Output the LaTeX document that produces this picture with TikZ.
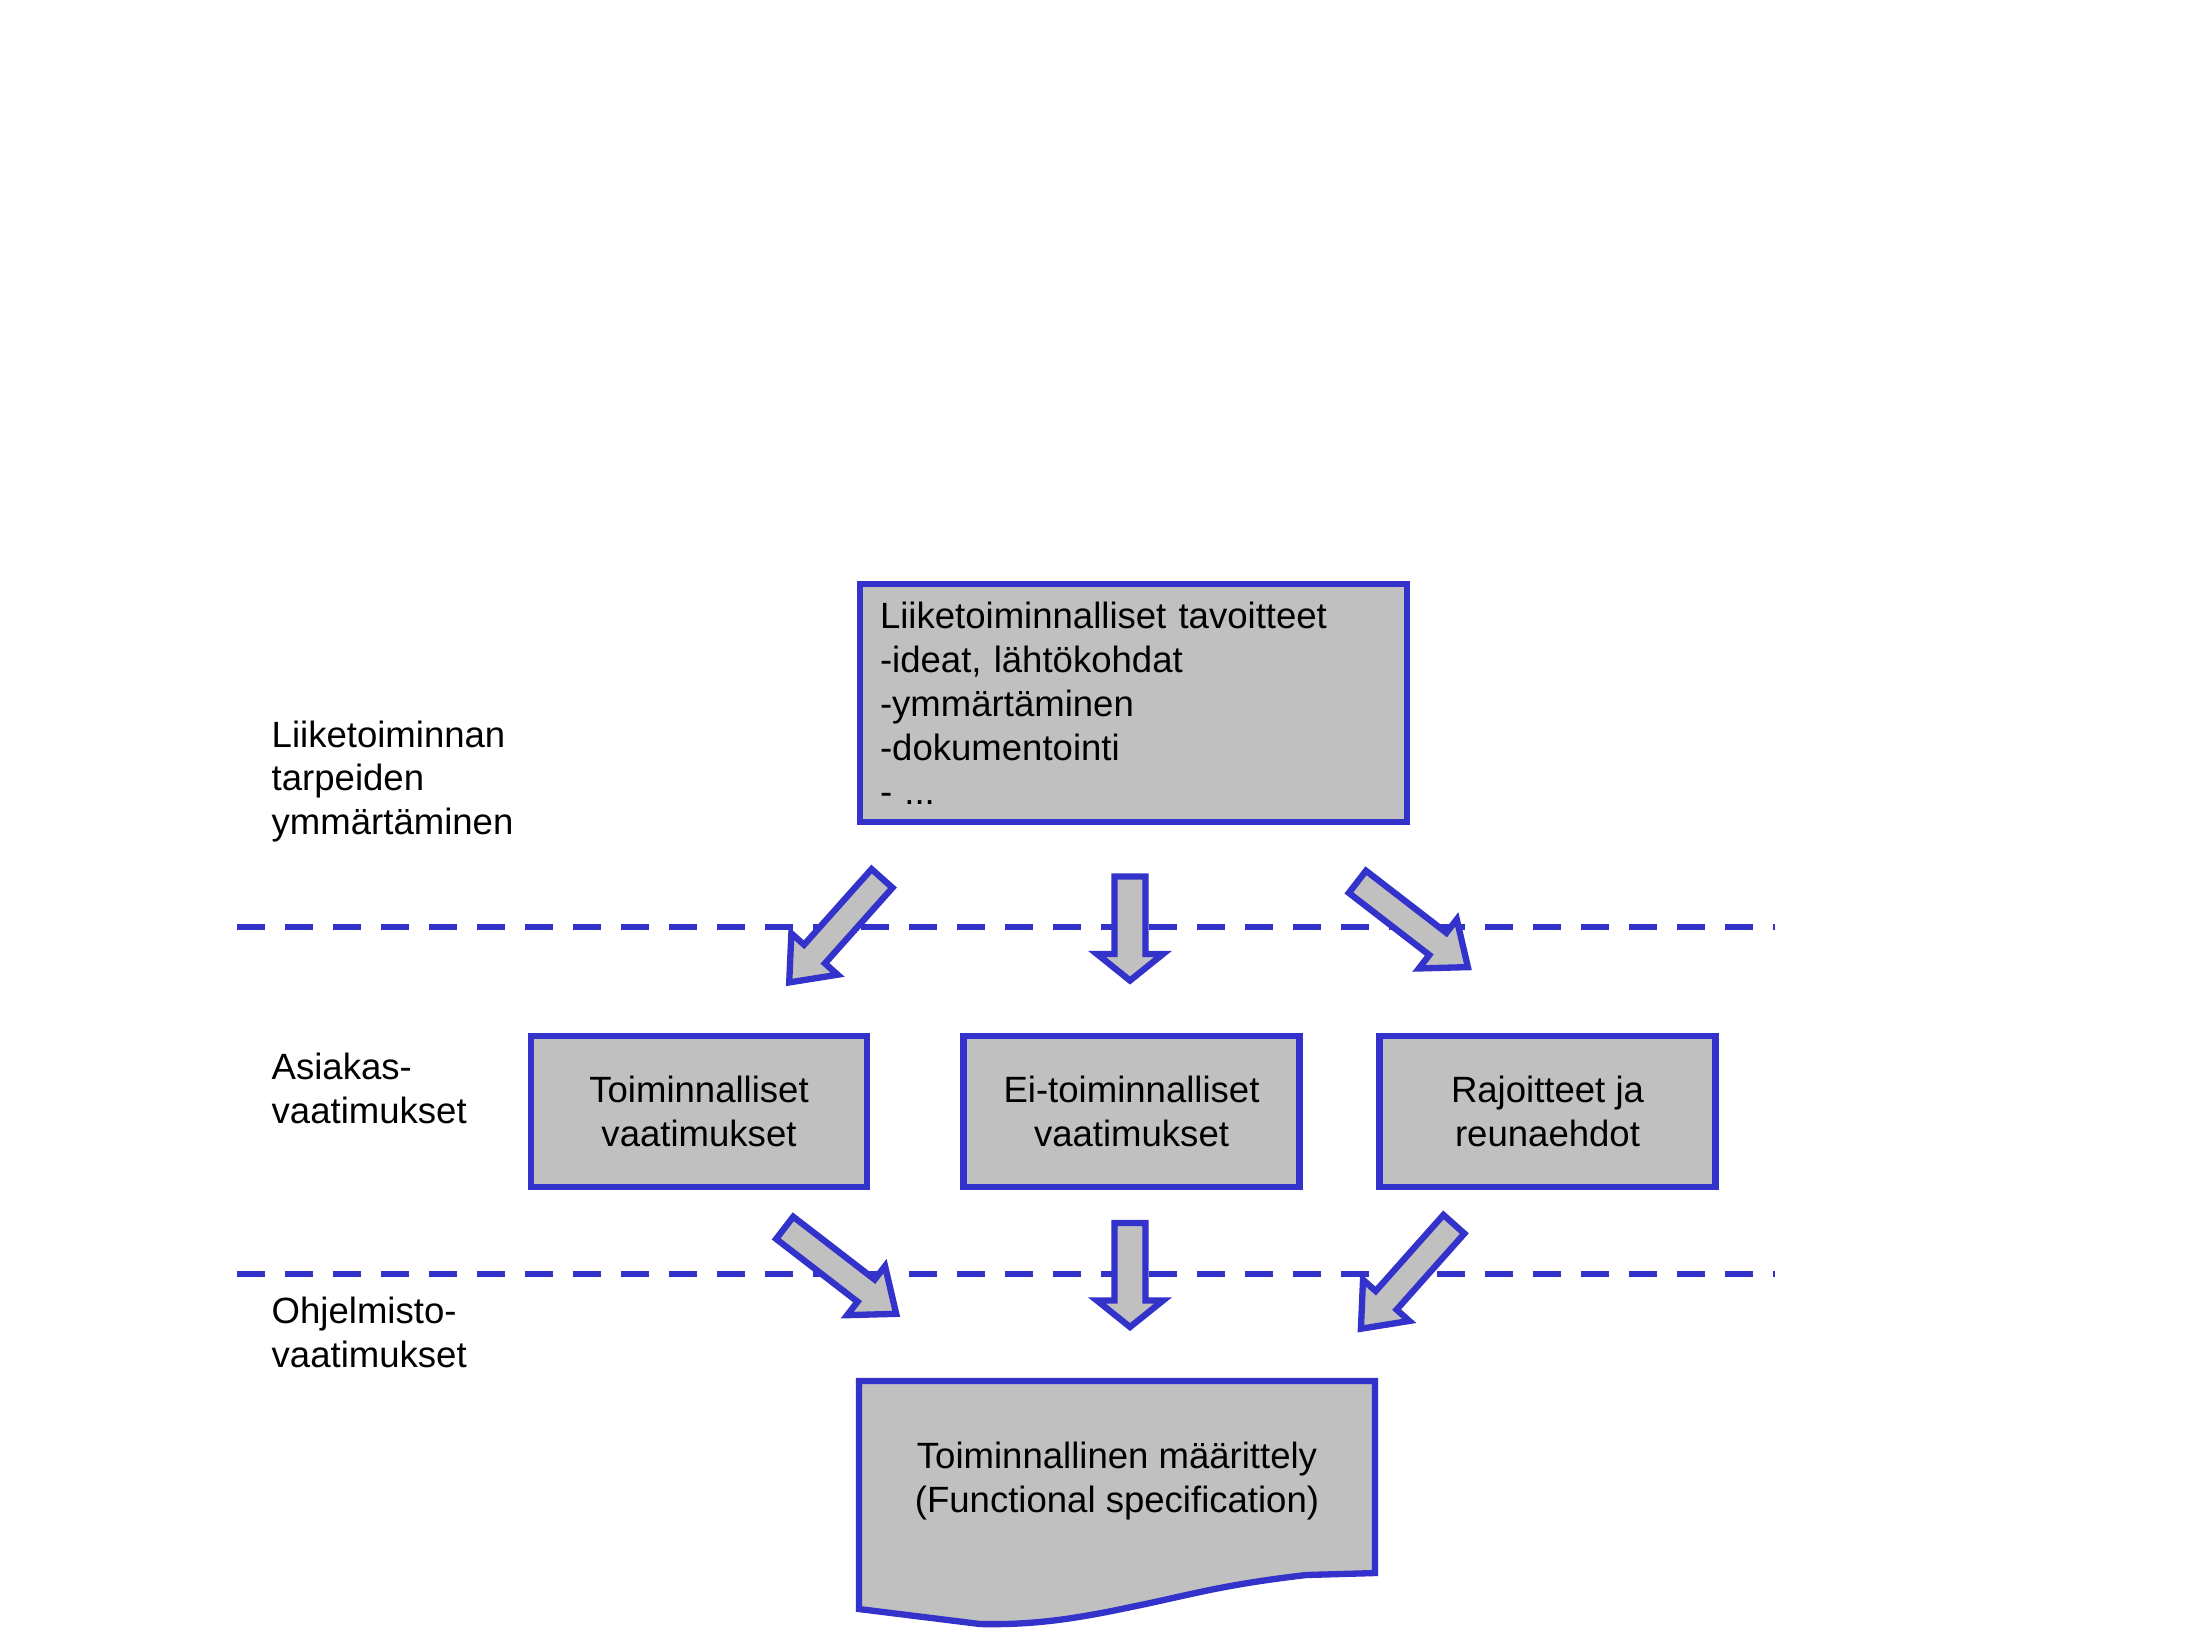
\documentclass[tikz,border=0pt]{standalone}
\usepackage{fontspec}
\setmainfont{Liberation Sans}
\usetikzlibrary{calc}
\definecolor{lineblue}{RGB}{51,51,204}
\definecolor{boxgray}{RGB}{192,192,192}
% block arrow: tail, tip, half shaft, half head, head length
\newcommand{\blockarrow}[5]{%
  \coordinate (hb) at ($(#2)!#5!(#1)$);
  \filldraw[blkarrow] ($(#1)!#3!90:(#2)$) -- ($(hb)!#3!90:(#2)$) -- ($(hb)!#4!90:(#2)$) -- (#2)
    -- ($(hb)!#4!-90:(#2)$) -- ($(hb)!#3!-90:(#2)$) -- ($(#1)!#3!-90:(#2)$) -- cycle;
}
\begin{document}
\begin{tikzpicture}[font=\fontsize{10.4}{12.5}\selectfont,
    box/.style={draw=lineblue, fill=boxgray, line width=1.8pt, minimum width=3.36cm,
      minimum height=1.51cm, align=center, inner sep=0pt},
    blkarrow/.style={draw=lineblue, fill=boxgray, line width=1.8pt, line join=miter},
    level/.style={draw=lineblue, line width=1.9pt, dash pattern=on 7.88pt off 5.78pt},
    lbl/.style={anchor=west, align=left, inner sep=0pt}]
  \useasboundingbox (0,0) rectangle (22,-16.5);

  \node[lbl] (need) at (2.71,-7.815) {Liiketoiminnan\\tarpeiden\\ymmärtäminen};
  \node[lbl] (cust) at (2.71,-10.88) {Asiakas-\\vaatimukset};
  \node[lbl] (soft) at (2.71,-13.32) {Ohjelmisto-\\vaatimukset};

  \node[box, minimum width=5.47cm, minimum height=2.38cm, text width=5.07cm, align=left]
    (goals) at (11.335,-7.03) {Liiketoiminnalliset tavoitteet\\-ideat, lähtökohdat\\-ymmärtäminen\\-dokumentointi\\- ...};

  \node[box] (func) at (6.99,-11.115) {Toiminnalliset\\vaatimukset};
  \node[box] (nonfunc) at (11.315,-11.115) {Ei-toiminnalliset\\vaatimukset};
  \node[box] (limits) at (15.475,-11.115) {Rajoitteet ja\\reunaehdot};

  \draw[level] (2.37,-9.27) -- (17.75,-9.27);
  \draw[level] (2.37,-12.74) -- (17.75,-12.74);

  \coordinate (a1s) at (8.82,-8.784);
  \coordinate (a1e) at (7.892,-9.824);
  \coordinate (a2s) at (11.30,-8.765);
  \coordinate (a2e) at (11.30,-9.805);
  \coordinate (a3s) at (13.574,-8.818);
  \coordinate (a3e) at (14.679,-9.671);
  \coordinate (b1s) at (7.847,-12.278);
  \coordinate (b1e) at (8.962,-13.138);
  \coordinate (b2s) at (11.30,-12.23);
  \coordinate (b2e) at (11.30,-13.27);
  \coordinate (b3s) at (14.539,-12.242);
  \coordinate (b3e) at (13.609,-13.287);

  \blockarrow{a1s}{a1e}{0.14cm}{0.31cm}{0.38cm}
  \blockarrow{a2s}{a2e}{0.155cm}{0.33cm}{0.265cm}
  \blockarrow{a3s}{a3e}{0.14cm}{0.31cm}{0.38cm}
  \blockarrow{b1s}{b1e}{0.14cm}{0.31cm}{0.38cm}
  \blockarrow{b2s}{b2e}{0.155cm}{0.33cm}{0.265cm}
  \blockarrow{b3s}{b3e}{0.14cm}{0.31cm}{0.38cm}

  \filldraw[blkarrow] (8.59,-13.81) -- (13.75,-13.81) -- (13.75,-15.73) -- (13.06,-15.75)
    .. controls (12.2,-15.85) and (11.9,-15.95) .. (11.31,-16.07)
    .. controls (10.7,-16.2) and (10.3,-16.25) .. (9.80,-16.24) -- (8.59,-16.09) -- cycle;
  \node[align=center] (spec) at (11.17,-14.81) {Toiminnallinen määrittely\\(Functional specification)};
\end{tikzpicture}
\end{document}
